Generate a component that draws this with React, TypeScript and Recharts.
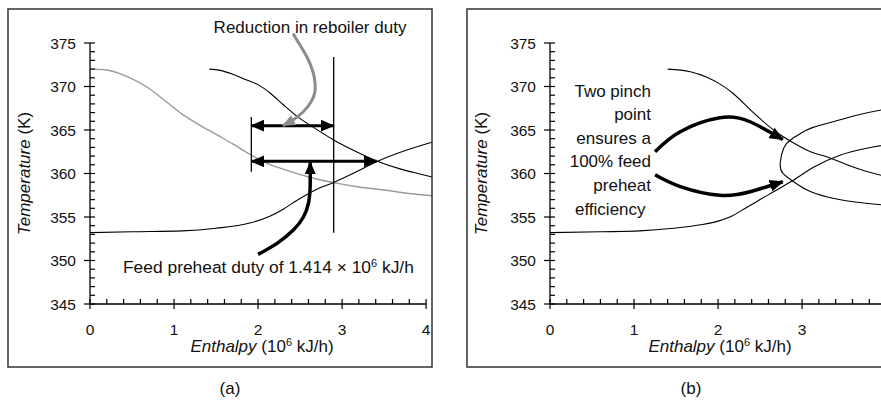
import React from 'react';
import { LineChart, Line, XAxis, YAxis, ReferenceLine } from 'recharts';

const FONT = "'Liberation Sans', Arial, Helvetica, sans-serif";

// ---------- axis ticks ----------
const xTicks = [0, 0.2, 0.4, 0.6, 0.8, 1, 1.2, 1.4, 1.6, 1.8, 2, 2.2, 2.4, 2.6, 2.8, 3, 3.2, 3.4, 3.6, 3.8, 4];
const xMajor = [0, 1, 2, 3, 4];
const yTicks = [345, 346, 347, 348, 349, 350, 351, 352, 353, 354, 355, 356, 357, 358, 359, 360, 361, 362, 363, 364, 365, 366, 367, 368, 369, 370, 371, 372, 373, 374, 375];
const yMajor = [345, 350, 355, 360, 365, 370, 375];

// ---------- panel (a) data ----------
const aGray = [
  { x: 0, y: 372.0 }, { x: 0.2, y: 371.9 }, { x: 0.45, y: 371.1 }, { x: 0.7, y: 369.8 },
  { x: 0.9, y: 368.3 }, { x: 1.1, y: 366.8 }, { x: 1.3, y: 365.6 }, { x: 1.5, y: 364.5 },
  { x: 1.7, y: 363.4 }, { x: 1.92, y: 362.1 }, { x: 2.1, y: 361.2 }, { x: 2.3, y: 360.5 },
  { x: 2.6, y: 359.6 }, { x: 2.9, y: 358.95 }, { x: 3.2, y: 358.45 }, { x: 3.5, y: 358.1 },
  { x: 3.8, y: 357.7 }, { x: 4.07, y: 357.45 },
];
const aHot = [
  { x: 1.42, y: 372.0 }, { x: 1.55, y: 371.85 }, { x: 1.7, y: 371.4 }, { x: 1.85, y: 370.8 },
  { x: 2.02, y: 370.1 }, { x: 2.15, y: 369.2 }, { x: 2.3, y: 367.9 }, { x: 2.46, y: 366.6 },
  { x: 2.66, y: 365.3 }, { x: 2.9, y: 363.85 }, { x: 3.17, y: 362.5 }, { x: 3.45, y: 361.3 },
  { x: 3.7, y: 360.5 }, { x: 3.9, y: 360.0 }, { x: 4.07, y: 359.6 },
];
const aCold = [
  { x: 0, y: 353.2 }, { x: 0.5, y: 353.3 }, { x: 1.1, y: 353.4 }, { x: 1.5, y: 353.7 },
  { x: 1.9, y: 354.3 }, { x: 2.14, y: 355.1 }, { x: 2.3, y: 355.9 }, { x: 2.46, y: 356.9 },
  { x: 2.7, y: 358.2 }, { x: 2.92, y: 359.05 }, { x: 3.17, y: 360.2 }, { x: 3.41, y: 361.35 },
  { x: 3.77, y: 362.7 }, { x: 4.07, y: 363.6 },
];
const aVertLong = [{ x: 2.9, y: 353.2 }, { x: 2.9, y: 373.4 }];
const aVertShort = [{ x: 1.92, y: 360.2 }, { x: 1.92, y: 366.5 }];
const aArrowReboiler = [{ x: 1.92, y: 365.5 }, { x: 2.9, y: 365.5 }];
const aArrowFeed = [{ x: 1.92, y: 361.4 }, { x: 3.41, y: 361.4 }];
const aPointerGray = [
  { x: 2.416, y: 376.1 }, { x: 2.499, y: 374.77 }, { x: 2.582, y: 373.39 }, { x: 2.654, y: 371.67 },
  { x: 2.678, y: 370.4 }, { x: 2.676, y: 369.37 }, { x: 2.63, y: 368.22 }, { x: 2.535, y: 367.07 },
  { x: 2.416, y: 366.15 }, { x: 2.297, y: 365.5 },
];
const aPointerFeed = [
  { x: 2.0, y: 350.7 }, { x: 2.23, y: 352.0 }, { x: 2.42, y: 353.5 }, { x: 2.54, y: 355.0 },
  { x: 2.6, y: 356.6 }, { x: 2.62, y: 358.5 }, { x: 2.62, y: 361.3 },
];

// ---------- panel (b) data ----------
const bHot = [
  { x: 1.4, y: 372.0 }, { x: 1.67, y: 371.7 }, { x: 1.86, y: 371.1 }, { x: 2.02, y: 370.3 },
  { x: 2.18, y: 369.2 }, { x: 2.42, y: 367.0 }, { x: 2.66, y: 365.0 }, { x: 2.9, y: 363.5 },
  { x: 3.1, y: 362.5 }, { x: 3.3, y: 361.9 }, { x: 3.65, y: 360.6 }, { x: 3.94, y: 359.8 },
  { x: 4.07, y: 359.5 },
];
const bCold = [
  { x: 0, y: 353.2 }, { x: 0.6, y: 353.3 }, { x: 1.07, y: 353.4 }, { x: 1.47, y: 353.7 },
  { x: 1.79, y: 354.1 }, { x: 1.99, y: 354.5 }, { x: 2.14, y: 355.0 }, { x: 2.34, y: 356.1 },
  { x: 2.5, y: 357.0 }, { x: 2.66, y: 357.9 }, { x: 2.9, y: 359.25 }, { x: 3.13, y: 360.7 },
  { x: 3.45, y: 362.1 }, { x: 3.77, y: 362.9 }, { x: 4.07, y: 363.4 },
];
const bLoop = [
  { x: 4.07, y: 367.5 }, { x: 3.94, y: 367.3 }, { x: 3.65, y: 366.7 }, { x: 3.37, y: 365.95 },
  { x: 3.13, y: 365.3 }, { x: 2.98, y: 364.6 }, { x: 2.86, y: 363.85 }, { x: 2.78, y: 362.9 },
  { x: 2.74, y: 361.2 }, { x: 2.77, y: 360.05 }, { x: 2.9, y: 359.05 }, { x: 3.06, y: 358.1 },
  { x: 3.3, y: 357.3 }, { x: 3.61, y: 356.75 }, { x: 3.94, y: 356.4 }, { x: 4.07, y: 356.3 },
];
const bPointerUpper = [
  { x: 1.25, y: 362.5 }, { x: 1.55, y: 364.8 }, { x: 2.02, y: 366.4 }, { x: 2.38, y: 365.95 },
  { x: 2.77, y: 363.9 },
];
const bPointerLower = [
  { x: 1.25, y: 359.85 }, { x: 1.55, y: 358.5 }, { x: 2.02, y: 357.5 }, { x: 2.38, y: 357.9 },
  { x: 2.77, y: 359.05 },
];

const bNoteLines = ['Two pinch', 'point', 'ensures a', '100% feed', 'preheat'];
const bNoteLast = 'efficiency';

// ---------- ticks ----------
function XTick(props: any) {
  const { x, y, payload } = props;
  const v = payload.value;
  const major = xMajor.some((m) => Math.abs(m - v) < 1e-6);
  return (
    <g>
      <line x1={x} x2={x} y1={y - 5} y2={major ? y + 5 : y} stroke="#000" strokeWidth={1.2} />
      {major && (
        <text x={x} y={y + 31} textAnchor="middle" fontSize={15.5} fontFamily={FONT} fill="#111">
          {v}
        </text>
      )}
    </g>
  );
}

function YTick(props: any) {
  const { x, y, payload } = props;
  const v = payload.value;
  const major = yMajor.includes(v);
  return (
    <g>
      <line x1={major ? x - 6 : x} x2={x + 5} y1={y} y2={y} stroke="#000" strokeWidth={1.2} />
      {major && (
        <text x={x - 14} y={y + 5.5} textAnchor="end" fontSize={15.5} fontFamily={FONT} fill="#111">
          {v}
        </text>
      )}
    </g>
  );
}

const common = { dot: false, activeDot: false, isAnimationActive: false } as const;

export default function App() {
  return (
    <div style={{ position: 'absolute', left: 0, top: 0, width: 881, height: 400, overflow: 'hidden', background: '#fff' }}>
      <svg width={0} height={0} style={{ position: 'absolute' }}>
        <defs>
          <marker id="ahBig" viewBox="0 0 14 12" refX={13} refY={6} markerWidth={14} markerHeight={12}
            markerUnits="userSpaceOnUse" orient="auto-start-reverse">
            <path d="M0,0 L14,6 L0,12 z" fill="#000" />
          </marker>
          <marker id="ahMid" viewBox="0 0 13 11" refX={12} refY={5.5} markerWidth={13} markerHeight={11}
            markerUnits="userSpaceOnUse" orient="auto-start-reverse">
            <path d="M0,0 L13,5.5 L0,11 z" fill="#000" />
          </marker>
          <marker id="ahGray" viewBox="0 0 13 11" refX={12} refY={5.5} markerWidth={13} markerHeight={11}
            markerUnits="userSpaceOnUse" orient="auto-start-reverse">
            <path d="M0,0 L13,5.5 L0,11 z" fill="#8c8c8c" />
          </marker>
        </defs>
      </svg>

      {/* Panel (a) */}
      <div style={{ position: 'absolute', left: 8, top: 9 }}>
        <LineChart width={424} height={358} margin={{ top: 16.6, right: 0, bottom: 0, left: 0 }}>
          <XAxis type="number" dataKey="x" domain={[0, 4.07]} allowDataOverflow ticks={xTicks} interval={0}
            tick={(p: any) => <XTick {...p} />} tickSize={0} tickMargin={0} axisLine={false} tickLine={false} height={63} />
          <YAxis type="number" domain={[345, 377]} allowDataOverflow ticks={yTicks} interval={0}
            tick={(p: any) => <YTick {...p} />} tickSize={0} tickMargin={0} axisLine={false} tickLine={false} width={82} />
          <ReferenceLine segment={[{ x: 0, y: 345 }, { x: 4, y: 345 }]} stroke="#000" strokeWidth={1.3} ifOverflow="visible" />
          <ReferenceLine segment={[{ x: 0, y: 345 }, { x: 0, y: 375 }]} stroke="#000" strokeWidth={1.3} ifOverflow="visible" />
          <Line data={aGray} dataKey="y" type="monotone" stroke="#9a9a9a" strokeWidth={1.4} {...common} />
          <Line data={aHot} dataKey="y" type="monotone" stroke="#000" strokeWidth={1.1} {...common} />
          <Line data={aCold} dataKey="y" type="monotone" stroke="#000" strokeWidth={1.1} {...common} />
          <Line data={aVertLong} dataKey="y" type="linear" stroke="#000" strokeWidth={1.3} {...common} />
          <Line data={aVertShort} dataKey="y" type="linear" stroke="#000" strokeWidth={1.3} {...common} />
          <Line data={aArrowReboiler} dataKey="y" type="linear" stroke="#000" strokeWidth={3}
            markerStart="url(#ahBig)" markerEnd="url(#ahBig)" {...common} />
          <Line data={aArrowFeed} dataKey="y" type="linear" stroke="#000" strokeWidth={3}
            markerStart="url(#ahBig)" markerEnd="url(#ahBig)" {...common} />
          <Line data={aPointerGray} dataKey="y" type="natural" stroke="#8c8c8c" strokeWidth={3}
            markerEnd="url(#ahGray)" {...common} />
          <Line data={aPointerFeed} dataKey="y" type="natural" stroke="#000" strokeWidth={3.5}
            markerEnd="url(#ahMid)" {...common} />
        </LineChart>
      </div>

      {/* Panel (b) */}
      <div style={{ position: 'absolute', left: 467, top: 9 }}>
        <LineChart width={425} height={358} margin={{ top: 16.6, right: 0, bottom: 0, left: 0 }}>
          <XAxis type="number" dataKey="x" domain={[0, 4.07]} allowDataOverflow ticks={xTicks} interval={0}
            tick={(p: any) => <XTick {...p} />} tickSize={0} tickMargin={0} axisLine={false} tickLine={false} height={63} />
          <YAxis type="number" domain={[345, 377]} allowDataOverflow ticks={yTicks} interval={0}
            tick={(p: any) => <YTick {...p} />} tickSize={0} tickMargin={0} axisLine={false} tickLine={false} width={83} />
          <ReferenceLine segment={[{ x: 0, y: 345 }, { x: 4, y: 345 }]} stroke="#000" strokeWidth={1.3} ifOverflow="visible" />
          <ReferenceLine segment={[{ x: 0, y: 345 }, { x: 0, y: 375 }]} stroke="#000" strokeWidth={1.3} ifOverflow="visible" />
          <Line data={bHot} dataKey="y" type="monotone" stroke="#000" strokeWidth={1.1} {...common} />
          <Line data={bCold} dataKey="y" type="monotone" stroke="#000" strokeWidth={1.1} {...common} />
          <Line data={bLoop} dataKey="y" type="natural" stroke="#000" strokeWidth={1.1} {...common} />
          <Line data={bPointerUpper} dataKey="y" type="natural" stroke="#000" strokeWidth={3.5}
            markerEnd="url(#ahBig)" {...common} />
          <Line data={bPointerLower} dataKey="y" type="natural" stroke="#000" strokeWidth={3.5}
            markerEnd="url(#ahBig)" {...common} />
        </LineChart>
      </div>

      {/* frames and text */}
      <svg width={881} height={400} style={{ position: 'absolute', left: 0, top: 0, pointerEvents: 'none' }}
        fontFamily={FONT} fill="#111">
        <rect x={8} y={9} width={424} height={358} fill="none" stroke="#333" strokeWidth={1.5} />
        <rect x={467} y={9} width={425} height={358} fill="none" stroke="#333" strokeWidth={1.5} />

        <text transform="translate(30,173.5) rotate(-90)" textAnchor="middle" fontSize={17}>
          <tspan fontStyle="italic">Temperature</tspan> (K)
        </text>
        <text x={262} y={352} textAnchor="middle" fontSize={17}>
          <tspan fontStyle="italic">Enthalpy</tspan> (10<tspan dy={-6} fontSize={11}>6</tspan>
          <tspan dy={6}> kJ/h)</tspan>
        </text>
        <text transform="translate(487,173.5) rotate(-90)" textAnchor="middle" fontSize={17}>
          <tspan fontStyle="italic">Temperature</tspan> (K)
        </text>
        <text x={720} y={352} textAnchor="middle" fontSize={17}>
          <tspan fontStyle="italic">Enthalpy</tspan> (10<tspan dy={-6} fontSize={11}>6</tspan>
          <tspan dy={6}> kJ/h)</tspan>
        </text>

        <text x={310} y={33} textAnchor="middle" fontSize={17}>Reduction in reboiler duty</text>
        <text x={123} y={273} fontSize={17.4}>
          Feed preheat duty of 1.414 × 10<tspan dy={-6} fontSize={11}>6</tspan>
          <tspan dy={6}> kJ/h</tspan>
        </text>

        {bNoteLines.map((t, i) => (
          <text key={t} x={651} y={96.5 + i * 23.6} textAnchor="end" fontSize={17}>{t}</text>
        ))}
        <text x={575} y={96.5 + 5 * 23.6} fontSize={17}>{bNoteLast}</text>

        <text x={230} y={394} textAnchor="middle" fontSize={17}>(a)</text>
        <text x={691} y={394} textAnchor="middle" fontSize={17}>(b)</text>
      </svg>
    </div>
  );
}
